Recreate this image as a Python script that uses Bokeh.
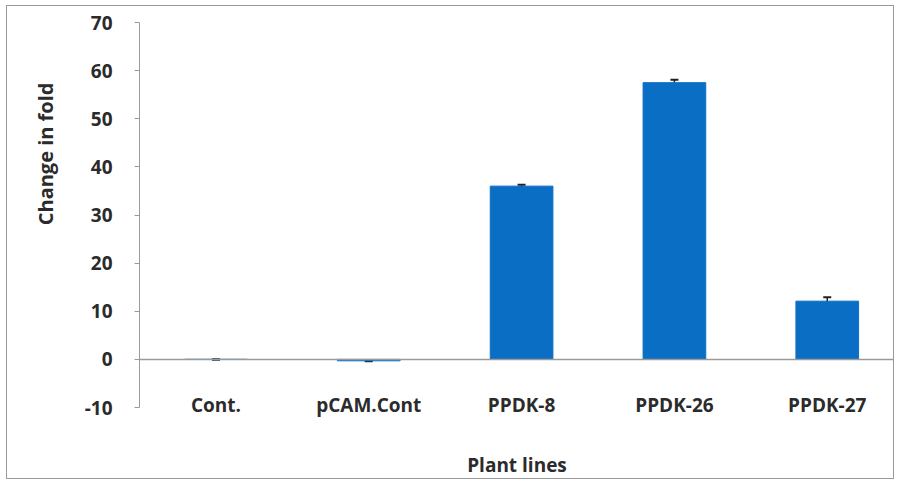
from bokeh.plotting import figure
from bokeh.models import ColumnDataSource, Whisker, TeeHead, Span, Title, FixedTicker, Range1d
from bokeh.embed import file_html
from bokeh.resources import INLINE

categories = ["Cont.", "pCAM.Cont", "PPDK-8", "PPDK-26", "PPDK-27"]
values = [0.0, -0.3, 36.0, 57.5, 12.1]
errors = [0.0, 0.1, 0.3, 0.6, 0.8]
y_ticks = [-10, 0, 10, 20, 30, 40, 50, 60, 70]
y_tick_labels = {-10: "-10"}

FONT = "Open Sans"
BAR = "#0A6FC4"
TXT = "#2b2b2b"
FS = "19px"

xpos = list(range(len(categories)))
src = ColumnDataSource(dict(
    x=xpos, cat=categories, val=values,
    upper=[v + e for v, e in zip(values, errors)],
    lower=[v - e for v, e in zip(values, errors)],
))

p = figure(x_range=Range1d(-0.5, 4.44), y_range=Range1d(-10, 70), width=888, height=474,
           output_backend="svg", toolbar_location=None,
           min_border_left=132, min_border_right=1, min_border_top=16, min_border_bottom=66)
p.styles = {"border": "1px solid #9a9a9a", "margin-left": "6px", "margin-top": "5px"}
p.outline_line_color = None
p.background_fill_color = "white"
p.xgrid.grid_line_color = None
p.ygrid.grid_line_color = None

p.vbar(x="x", top="val", bottom=0, width=0.41, source=src,
       fill_color=BAR, line_color=BAR)
w = Whisker(base="x", upper="upper", lower="lower", source=src,
            line_color="#222222", line_width=1.5,
            upper_head=TeeHead(size=8, line_color="#222222", line_width=2),
            lower_head=TeeHead(size=8, line_color="#222222", line_width=2))
p.add_layout(w)

p.add_layout(Span(location=0, dimension="width", line_color="#9a9a9a", line_width=1.5))

# y axis
p.yaxis.ticker = FixedTicker(ticks=y_ticks)
p.yaxis.major_label_overrides = y_tick_labels
p.yaxis.axis_line_color = "#9a9a9a"
p.yaxis.major_tick_line_color = "#9a9a9a"
p.yaxis.major_tick_out = 5
p.yaxis.major_tick_in = 0
p.yaxis.minor_tick_line_color = None
p.yaxis.major_label_standoff = 22
p.yaxis.major_label_text_font = FONT
p.yaxis.major_label_text_font_style = "bold"
p.yaxis.major_label_text_font_size = FS
p.yaxis.major_label_text_color = TXT
p.yaxis.axis_label = None

ytitle = Title(text="Change in fold", align="right", offset=60, standoff=45,
               text_font=FONT, text_font_style="bold", text_font_size="20px",
               text_color=TXT)
p.add_layout(ytitle, "left")

# x axis
p.xaxis.ticker = FixedTicker(ticks=xpos)
p.xaxis.major_label_overrides = {i: c for i, c in zip(xpos, categories)}
p.xaxis.axis_line_color = None
p.xaxis.major_tick_line_color = None
p.xaxis.minor_tick_line_color = None
p.xaxis.major_label_standoff = -22
p.xaxis.major_label_text_font = FONT
p.xaxis.major_label_text_font_style = "bold"
p.xaxis.major_label_text_font_size = FS
p.xaxis.major_label_text_color = TXT
p.xaxis.axis_label = "Plant lines"
p.xaxis.axis_label_standoff = 31
p.xaxis.axis_label_text_font = FONT
p.xaxis.axis_label_text_font_style = "bold"
p.xaxis.axis_label_text_font_size = FS
p.xaxis.axis_label_text_color = TXT

open("out.html", "w").write(file_html(p, INLINE))
